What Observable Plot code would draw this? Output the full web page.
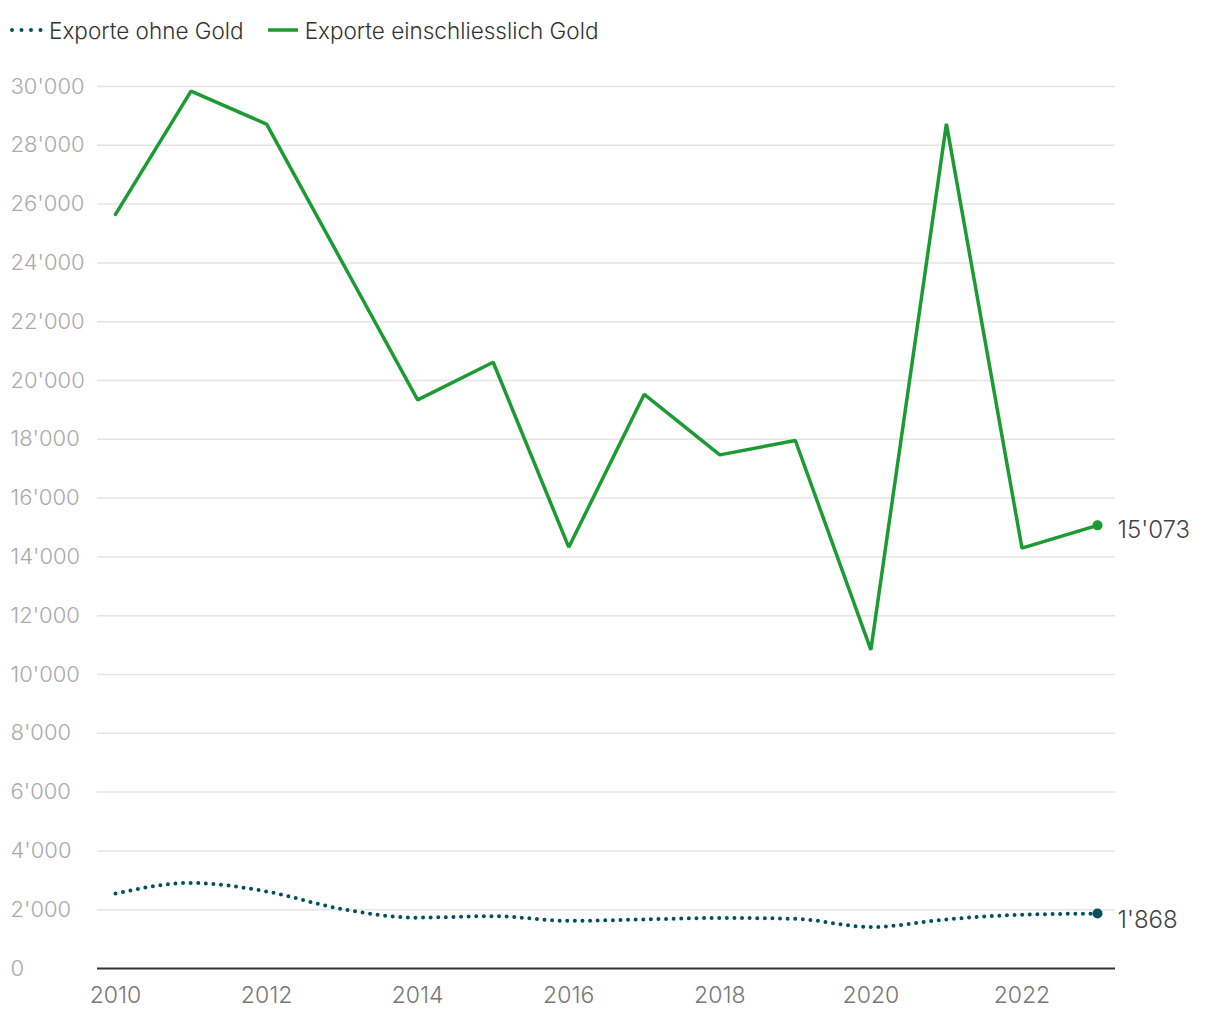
<!DOCTYPE html>
<html>
<head>
<meta charset="utf-8">
<script src="https://cdn.jsdelivr.net/npm/d3@7"></script>
<script src="https://cdn.jsdelivr.net/npm/@observablehq/plot@0.6"></script>
<style>
  html, body { margin: 0; padding: 0; background: #fff; }
  body { width: 1220px; height: 1020px; overflow: hidden; font-family: Inter, "Noto Sans", sans-serif; }
  #legend { height: 56px; display: flex; align-items: center; padding-left: 10px; padding-top: 4px; box-sizing: border-box; font-size: 22.5px; font-weight: 300; color: #333; }
  .item { display: flex; align-items: center; margin-right: 24px; }
  .item svg { margin-right: 5px; }
</style>
</head>
<body>
<div id="legend"></div>
<div id="chart"></div>
<script>
const years = [2010, 2011, 2012, 2013, 2014, 2015, 2016, 2017, 2018, 2019, 2020, 2021, 2022, 2023];
const exportsWithGold = [25650, 29840, 28720, 24030, 19340, 20620, 14330, 19530, 17470, 17960, 10840, 28730, 14300, 15073];
const exportsWithoutGold = [2550, 2910, 2620, 2020, 1730, 1780, 1620, 1670, 1720, 1690, 1410, 1670, 1830, 1868];
const seriesNames = ["Exporte ohne Gold", "Exporte einschliesslich Gold"];
const seriesColors = ["#00505e", "#1c9b33"];
const yTicks = [0, 2000, 4000, 6000, 8000, 10000, 12000, 14000, 16000, 18000, 20000, 22000, 24000, 26000, 28000, 30000];
const xTicks = [2010, 2012, 2014, 2016, 2018, 2020, 2022];

const fmt = d => d3.format(",")(d).replace(/,/g, "'");

const withGold = years.map((y, i) => ({year: y, value: exportsWithGold[i]}));
const withoutGold = years.map((y, i) => ({year: y, value: exportsWithoutGold[i]}));
const lastGold = withGold[withGold.length - 1];
const lastNoGold = withoutGold[withoutGold.length - 1];

// Legend
const legend = document.getElementById("legend");
seriesNames.forEach((name, i) => {
  const item = document.createElement("div");
  item.className = "item";
  const sw = i === 0
    ? `<svg width="34" height="10"><line x1="2" y1="5" x2="32" y2="5" stroke="${seriesColors[0]}" stroke-width="4" stroke-linecap="round" stroke-dasharray="0 9.5"/></svg>`
    : `<svg width="32" height="10"><line x1="0" y1="5" x2="30" y2="5" stroke="${seriesColors[1]}" stroke-width="3.5"/></svg>`;
  item.innerHTML = sw + `<span>${name}</span>`;
  legend.appendChild(item);
});

const chart = Plot.plot({
  width: 1220,
  height: 964,
  marginTop: 30,
  marginBottom: 52,
  marginLeft: 97,
  marginRight: 105,
  style: {fontFamily: "Inter, 'Noto Sans', sans-serif", background: "#fff"},
  x: {domain: [2010, 2023], insetLeft: 18, insetRight: 18, axis: null},
  y: {domain: [0, 30000], axis: null},
  marks: [
    Plot.ruleY(yTicks.filter(d => d > 0), {stroke: "#e4e4e4", strokeWidth: 1.5}),
    Plot.ruleY([0], {stroke: "#333", strokeWidth: 2}),
    Plot.text(yTicks, {y: d => d, text: d => fmt(d), frameAnchor: "left", dx: -87, textAnchor: "start", fill: "#aaa", fontSize: 22, fontWeight: 300}),
    Plot.text(xTicks, {x: d => d, text: d => String(d), frameAnchor: "bottom", dy: 34, fill: "#777", fontSize: 23, fontWeight: 300}),
    Plot.line(withoutGold, {x: "year", y: "value", stroke: seriesColors[0], strokeWidth: 4, strokeLinecap: "round", strokeDasharray: "0 7.6", curve: "monotone-x"}),
    Plot.line(withGold, {x: "year", y: "value", stroke: seriesColors[1], strokeWidth: 3.5, strokeLinejoin: "miter"}),
    Plot.dot([lastGold], {x: "year", y: "value", r: 5, fill: seriesColors[1]}),
    Plot.dot([lastNoGold], {x: "year", y: "value", r: 5, fill: seriesColors[0]}),
    Plot.text([lastGold], {x: "year", y: "value", text: d => fmt(d.value), dx: 20, dy: 5, textAnchor: "start", fill: "#444", fontSize: 24, fontWeight: 300}),
    Plot.text([lastNoGold], {x: "year", y: "value", text: d => fmt(d.value), dx: 20, dy: 7, textAnchor: "start", fill: "#444", fontSize: 24, fontWeight: 300})
  ]
});
document.getElementById("chart").appendChild(chart);
</script>
</body>
</html>
